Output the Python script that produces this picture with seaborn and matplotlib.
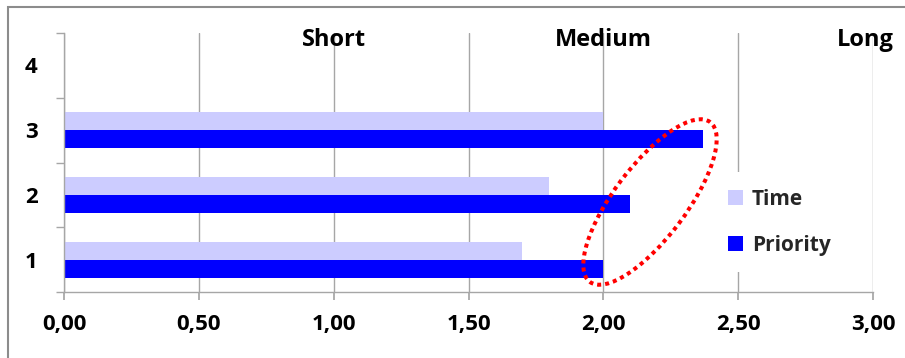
import matplotlib
matplotlib.use('Agg')
import matplotlib.pyplot as plt
import seaborn as sns
import pandas as pd
from matplotlib.patches import Ellipse, Rectangle
from matplotlib.transforms import IdentityTransform
from matplotlib.ticker import FixedLocator

# ---- data ----
categories = ['1', '2', '3']
time_values = [1.70, 1.80, 2.00]
priority_values = [2.00, 2.10, 2.37]
category_order = ['4', '3', '2', '1']
series_names = ['Time', 'Priority']
x_ticks = [0.0, 0.5, 1.0, 1.5, 2.0, 2.5, 3.0]
x_tick_labels = ['0,00', '0,50', '1,00', '1,50', '2,00', '2,50', '3,00']
zone_labels = ['Short', 'Medium', 'Long']
zone_positions = [1.0, 2.0, 2.97]

sns.set_theme(style='white')
plt.rcParams['font.family'] = ['Open Sans', 'DejaVu Sans']

df = pd.DataFrame({
    'Category': categories * 2,
    'Series': [series_names[0]] * len(categories) + [series_names[1]] * len(categories),
    'Value': time_values + priority_values,
})

fig = plt.figure(figsize=(9.05, 3.58), dpi=100)
ax = fig.add_axes([64 / 905, 66 / 358, 809 / 905, 259 / 358])

sns.barplot(data=df, x='Value', y='Category', hue='Series', order=category_order,
            hue_order=series_names, palette=['#CCCCFF', '#0000FF'], width=0.556,
            orient='h', ax=ax, saturation=1, errorbar=None, linewidth=0)

grid_col = '#a6a6a6'
ax.set_xlim(0, 3)
ax.set_ylim(3.5, -0.5)
ax.set_xlabel('')
ax.set_ylabel('')
ax.set_axisbelow(True)
ax.xaxis.grid(True, color=grid_col, lw=1)
ax.yaxis.grid(False)
for s in ['top', 'right']:
    ax.spines[s].set_visible(False)
for s in ['left', 'bottom']:
    ax.spines[s].set_color(grid_col)
    ax.spines[s].set_linewidth(1)

ax.set_xticks(x_ticks)
ax.set_xticklabels(x_tick_labels, fontsize=16, fontweight='bold', color='black')
ax.tick_params(axis='x', which='major', direction='out', length=6, color=grid_col, pad=10, bottom=True)

ax.set_yticks(range(len(category_order)))
ax.set_yticklabels(category_order, fontsize=16, fontweight='bold', color='black')
ax.yaxis.set_minor_locator(FixedLocator([-0.5, 0.5, 1.5, 2.5, 3.5]))
ax.tick_params(axis='y', which='major', length=0, pad=19, left=True)
ax.tick_params(axis='y', which='minor', direction='out', length=6, color=grid_col, left=True, width=1)

for lab, xp in zip(zone_labels, zone_positions):
    ax.text(xp, -0.392, lab, ha='center', va='center', fontsize=17,
            fontweight='bold', color='black', clip_on=False)

handles, labels = ax.get_legend_handles_labels()
ax.legend(handles, labels, loc='center left', bbox_to_anchor=(0.787, 0.27),
          frameon=True, facecolor='white', edgecolor='none', framealpha=1,
          prop={'weight': 'bold', 'size': 15}, handlelength=0.75, handleheight=0.7,
          handletextpad=0.4, labelspacing=1.2, borderpad=0.8, fancybox=False)

ell = Ellipse((650, 156), width=200, height=72, angle=53, transform=IdentityTransform(),
              fill=False, edgecolor='#ff0000', lw=2.9, linestyle=(0, (1, 1)), clip_on=False)
fig.add_artist(ell)

fig.add_artist(Rectangle((8 / 905, -0.1), 1.2, (1 - 7 / 358) + 0.1, transform=fig.transFigure,
                         fill=False, edgecolor='#8c8c8c', lw=1.5))

fig.savefig('out.png', dpi=100)
